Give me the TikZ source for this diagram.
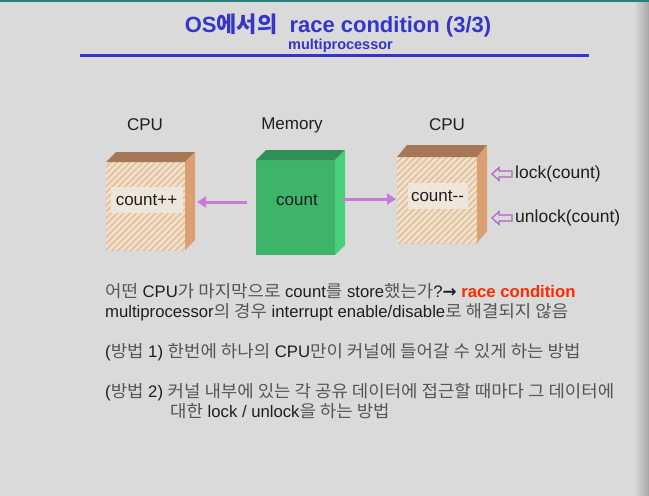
\documentclass[tikz,border=0pt]{standalone}
\usepackage{fontspec}
\setmainfont{Liberation Sans}
\newfontfamily\kofont[FakeStretch=1.05]{Noto Sans CJK KR}
\newfontfamily\kotitlefont{Noto Sans CJK KR}
\newfontfamily\symfont{DejaVu Sans}
\usetikzlibrary{arrows.meta,patterns.meta}
\definecolor{bg}{HTML}{DADADA}
\definecolor{titleblue}{HTML}{3535C8}
\definecolor{kogray}{HTML}{555555}
\definecolor{txt}{HTML}{1E1E1E}
\definecolor{racered}{HTML}{FF2A00}
\definecolor{cpubase}{HTML}{F2E0CB}
\definecolor{cpuhatch}{HTML}{E0BF9C}
\definecolor{cputop}{HTML}{A57756}
\definecolor{cpuside}{HTML}{DB9F72}
\definecolor{cpulabelbg}{HTML}{EFE6DB}
\definecolor{memfront}{HTML}{3DB46A}
\definecolor{memtop}{HTML}{2F8F55}
\definecolor{memside}{HTML}{48D07B}
\definecolor{pinkarrow}{HTML}{C87AD8}
\definecolor{hollowarrow}{HTML}{B062C2}
\newcommand\ko[1]{{\kofont\fontsize{17}{21}\selectfont\color{kogray}#1}}
\newcommand\kob[1]{{\kotitlefont\bfseries #1}}
\begin{document}
\begin{tikzpicture}[x=1pt,y=-1pt,
  cpubox/.style={inner sep=0pt,outer sep=0pt,preaction={fill=cpubase},
    pattern={Lines[angle=45,distance=4.5pt,line width=1.5pt]},pattern color=cpuhatch},
  membox/.style={inner sep=0pt,outer sep=0pt,fill=memfront},
  boxlabel/.style={font=\fontsize{17}{20}\selectfont,text=txt,inner sep=0pt},
  inlabel/.style={font=\fontsize{17}{20}\selectfont,text=txt,inner sep=3pt,minimum height=26pt},
  sidelabel/.style={font=\fontsize{17.5}{20}\selectfont,text=txt,inner sep=0pt,anchor=west},
  bodyline/.style={font=\fontsize{16.7}{21}\selectfont,text=txt,inner sep=0pt,anchor=base west},
  flow/.style={draw=pinkarrow,line width=3pt,-{Triangle[length=9pt,width=11pt]}},
  hollow/.style={draw=hollowarrow,line width=1.2pt,fill=bg,line join=miter}
]
\useasboundingbox (0,0) rectangle (649,496);
\fill[bg] (0,0) rectangle (649,496);
\shade[left color=bg,right color=black!35] (634,0) rectangle (649,496);
\fill[teal!70!gray] (0,0) rectangle (649,1.5);

% title
\node[anchor=base,inner sep=0pt,text=titleblue,font=\fontsize{22}{26}\selectfont\bfseries] (title) at (338,32) {OS\kob{에서의}~~race condition (3/3)};
\node[anchor=base,inner sep=0pt,text=titleblue,font=\fontsize{14.5}{17}\selectfont\bfseries] (subtitle) at (340.5,49.5) {multiprocessor};
\draw[titleblue,line width=3pt] (80,55.5) -- (589,55.5);

% labels above boxes
\node[boxlabel] (cpuLname) at (145,125) {CPU};
\node[boxlabel] (memname) at (292,125) {Memory};
\node[boxlabel] (cpuRname) at (447,125) {CPU};

% left CPU box
\node[cpubox,minimum width=79pt,minimum height=88pt] (cpuL) at (145.5,206) {};
\fill[cputop] (cpuL.north west) -- ++(10,-10) -- ++(79,0) -- (cpuL.north east) -- cycle;
\fill[cpuside] (cpuL.north east) -- ++(10,-10) -- ++(0,88) -- (cpuL.south east) -- cycle;
\node[inlabel,fill=cpulabelbg,minimum width=72pt] (cpuLtxt) at (146.5,200) {count++};

% memory box
\node[membox,minimum width=79pt,minimum height=95pt] (mem) at (295.5,207.5) {};
\fill[memtop] (mem.north west) -- ++(10,-10) -- ++(79,0) -- (mem.north east) -- cycle;
\fill[memside] (mem.north east) -- ++(10,-10) -- ++(0,95) -- (mem.south east) -- cycle;
\node[inlabel] (memtxt) at (297,200) {count};

% right CPU box
\node[cpubox,minimum width=80pt,minimum height=86pt] (cpuR) at (437,200) {};
\fill[cputop] (cpuR.north west) -- ++(10,-12) -- ++(80,0) -- (cpuR.north east) -- cycle;
\fill[cpuside] (cpuR.north east) -- ++(10,-12) -- ++(0,86) -- (cpuR.south east) -- cycle;
\node[inlabel,fill=cpulabelbg,minimum width=60pt] (cpuRtxt) at (437.5,196) {count-{}-};

% flow arrows
\draw[flow] ([xshift=-9pt,yshift=5.5pt]mem.west) -- ([xshift=12pt,yshift=4pt]cpuL.east);
\draw[flow] ([xshift=8pt,yshift=8.5pt]mem.east) -- ([xshift=-1pt,yshift=1pt]cpuR.west);

% lock / unlock
\node[sidelabel] (lock) at (515,174) {lock(count)};
\node[sidelabel] (unlock) at (515,218) {unlock(count)};
\draw[hollow] ([xshift=-23pt]lock.west) -- ++(7,-6.5) -- ++(0,3.5) -- ++(13,0) -- ++(0,6) -- ++(-13,0) -- ++(0,3.5) -- cycle;
\draw[hollow] ([xshift=-23pt]unlock.west) -- ++(7,-6.5) -- ++(0,3.5) -- ++(13,0) -- ++(0,6) -- ++(-13,0) -- ++(0,3.5) -- cycle;

% body text
\node[bodyline] (l1) at (105,297.5) {\ko{어떤} CPU\ko{가 마지막으로} count\ko{를} store\ko{했는가}?{\symfont\bfseries →} {\color{racered}\bfseries race condition}};
\node[bodyline] (l2) at (105,317) {multiprocessor\ko{의 경우} interrupt enable/disable\ko{로 해결되지 않음}};
\node[bodyline] (l3) at (105,357) {(\ko{방법} 1) \ko{한번에 하나의} CPU\ko{만이 커널에 들어갈 수 있게 하는 방법}};
\node[bodyline] (l4) at (105,397) {(\ko{방법} 2) \ko{커널 내부에 있는 각 공유 데이터에 접근할 때마다 그 데이터에}};
\node[bodyline] (l5) at (170,417) {\ko{대한} lock / unlock\ko{을 하는 방법}};
\end{tikzpicture}
\end{document}
